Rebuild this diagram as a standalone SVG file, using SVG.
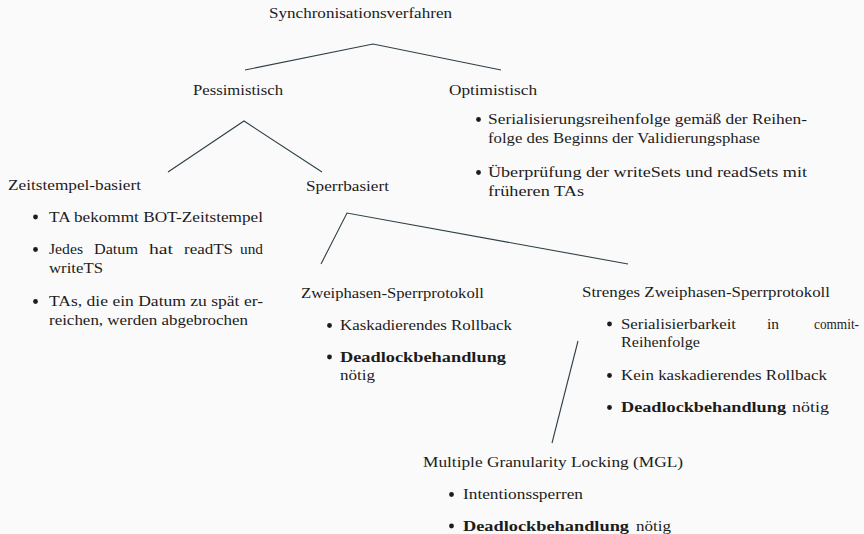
<svg xmlns="http://www.w3.org/2000/svg" width="864" height="534" viewBox="0 0 864 534">
<style>
text{font-family:"Liberation Serif","DejaVu Serif","Noto Serif",serif;font-size:15px;fill:#1c1c1c}
.b{font-weight:bold}
.bul{fill:#1c1c1c}
.edge{fill:none;stroke:#2e3f47;stroke-width:1.1}
</style>
<rect width="864" height="534" fill="#fafafa"/>
<g id="connectors">
<polyline class="edge" points="245,70 373,44 501,70"/>
<polyline class="edge" points="168,172 244,121 322,172"/>
<polyline class="edge" points="321,264 347,213 628,264"/>
<line class="edge" x1="578" y1="341" x2="552" y2="443"/>
</g>
<g id="root">
<text x="269" y="18" textLength="183" lengthAdjust="spacingAndGlyphs">Synchronisationsverfahren</text>
</g>
<g id="pessimistisch">
<text x="193" y="94.5" textLength="90" lengthAdjust="spacingAndGlyphs">Pessimistisch</text>
</g>
<g id="optimistisch">
<text x="449" y="94.5" textLength="88" lengthAdjust="spacingAndGlyphs">Optimistisch</text>
<circle class="bul" cx="478.5" cy="119.5" r="2.4"/>
<text x="488" y="124" textLength="319" lengthAdjust="spacingAndGlyphs">Serialisierungsreihenfolge gemäß der Reihen-</text>
<text x="488" y="143" textLength="272" lengthAdjust="spacingAndGlyphs">folge des Beginns der Validierungsphase</text>
<circle class="bul" cx="478.5" cy="172.5" r="2.4"/>
<text x="488" y="177" textLength="319" lengthAdjust="spacingAndGlyphs">Überprüfung der writeSets und readSets mit</text>
<text x="488" y="196" textLength="96" lengthAdjust="spacingAndGlyphs">früheren TAs</text>
</g>
<g id="zeitstempel">
<text x="8" y="190" textLength="133" lengthAdjust="spacingAndGlyphs">Zeitstempel-basiert</text>
<circle class="bul" cx="35.5" cy="217" r="2.4"/>
<text x="49" y="221.5" textLength="214" lengthAdjust="spacingAndGlyphs">TA bekommt BOT-Zeitstempel</text>
<circle class="bul" cx="35.5" cy="249.5" r="2.4"/>
<text x="49" y="254" textLength="34" lengthAdjust="spacingAndGlyphs">Jedes</text>
<text x="94" y="254" textLength="44" lengthAdjust="spacingAndGlyphs">Datum</text>
<text x="149" y="254" textLength="24" lengthAdjust="spacingAndGlyphs">hat</text>
<text x="184" y="254" textLength="49" lengthAdjust="spacingAndGlyphs">readTS</text>
<text x="240" y="254" textLength="23" lengthAdjust="spacingAndGlyphs">und</text>
<text x="49" y="272.5" textLength="54" lengthAdjust="spacingAndGlyphs">writeTS</text>
<circle class="bul" cx="35.5" cy="301.5" r="2.4"/>
<text x="49" y="306" textLength="214" lengthAdjust="spacingAndGlyphs">TAs, die ein Datum zu spät er-</text>
<text x="49" y="324.5" textLength="199" lengthAdjust="spacingAndGlyphs">reichen, werden abgebrochen</text>
</g>
<g id="sperrbasiert">
<text x="306" y="191" textLength="83" lengthAdjust="spacingAndGlyphs">Sperrbasiert</text>
</g>
<g id="zweiphasen">
<text x="301" y="297.5" textLength="183" lengthAdjust="spacingAndGlyphs">Zweiphasen-Sperrprotokoll</text>
<circle class="bul" cx="329.5" cy="325.5" r="2.4"/>
<text x="340" y="330" textLength="172" lengthAdjust="spacingAndGlyphs">Kaskadierendes Rollback</text>
<circle class="bul" cx="329.5" cy="357" r="2.4"/>
<text class="b" x="340" y="361.5" textLength="166" lengthAdjust="spacingAndGlyphs">Deadlockbehandlung</text>
<text x="340" y="380" textLength="35" lengthAdjust="spacingAndGlyphs">nötig</text>
</g>
<g id="strenges">
<text x="582" y="297" textLength="248" lengthAdjust="spacingAndGlyphs">Strenges Zweiphasen-Sperrprotokoll</text>
<circle class="bul" cx="609.5" cy="324" r="2.4"/>
<text x="621" y="328.5" textLength="115" lengthAdjust="spacingAndGlyphs">Serialisierbarkeit</text>
<text x="767" y="328.5" textLength="12" lengthAdjust="spacingAndGlyphs">in</text>
<text x="814" y="328.5" textLength="45" lengthAdjust="spacingAndGlyphs">commit-</text>
<text x="621" y="347" textLength="79" lengthAdjust="spacingAndGlyphs">Reihenfolge</text>
<circle class="bul" cx="609.5" cy="375.5" r="2.4"/>
<text x="621" y="380" textLength="206" lengthAdjust="spacingAndGlyphs">Kein kaskadierendes Rollback</text>
<circle class="bul" cx="609.5" cy="407.5" r="2.4"/>
<text class="b" x="621" y="412" textLength="165" lengthAdjust="spacingAndGlyphs">Deadlockbehandlung</text>
<text x="792" y="412" textLength="37" lengthAdjust="spacingAndGlyphs">nötig</text>
</g>
<g id="mgl">
<text x="423" y="467" textLength="260" lengthAdjust="spacingAndGlyphs">Multiple Granularity Locking (MGL)</text>
<circle class="bul" cx="451.5" cy="494.5" r="2.4"/>
<text x="463" y="499" textLength="120" lengthAdjust="spacingAndGlyphs">Intentionssperren</text>
<circle class="bul" cx="451.5" cy="526" r="2.4"/>
<text class="b" x="463" y="530.5" textLength="166" lengthAdjust="spacingAndGlyphs">Deadlockbehandlung</text>
<text x="636" y="530.5" textLength="35" lengthAdjust="spacingAndGlyphs">nötig</text>
</g>
</svg>
